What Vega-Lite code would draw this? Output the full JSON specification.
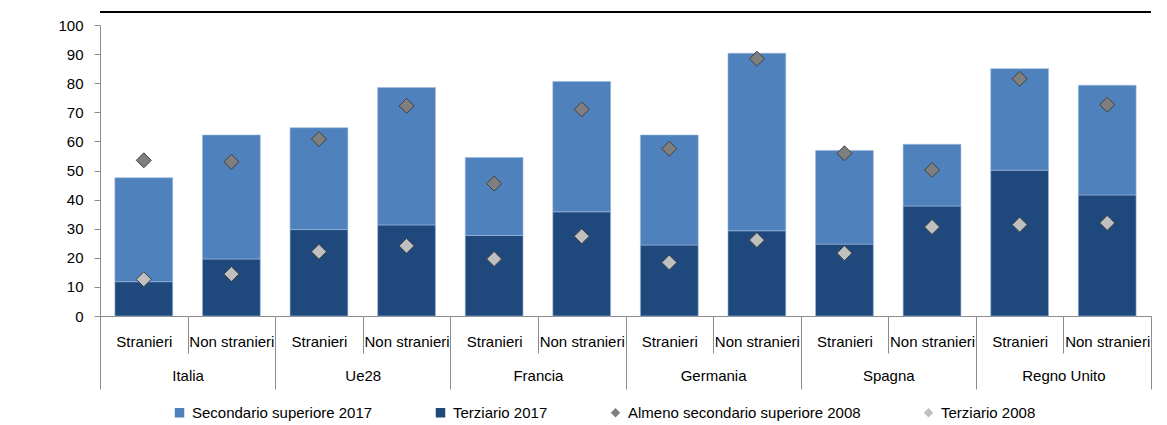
{
  "$schema": "https://vega.github.io/schema/vega-lite/v6.json",
  "width": 1051,
  "height": 291,
  "autosize": {"type": "none"},
  "padding": {"left": 100, "top": 25, "right": 16, "bottom": 109},
  "background": "white",
  "config": {
    "view": {"stroke": null},
    "font": "Liberation Sans",
    "axis": {"labelFont": "Liberation Sans", "labelFontSize": 15, "labelColor": "#000000", "domainColor": "#8c8c8c", "tickColor": "#8c8c8c", "grid": false, "title": null},
    "legend": {"labelFont": "Liberation Sans", "labelFontSize": 15, "labelColor": "#000000", "labelLimit": 0}
  },
  "data": {
    "values": [
      {"country": "Italia", "group": "Stranieri", "key": "Italia|Stranieri", "series": "Terziario 2017", "value": 11.8},
      {"country": "Italia", "group": "Stranieri", "key": "Italia|Stranieri", "series": "Secondario superiore 2017", "value": 35.7},
      {"country": "Italia", "group": "Stranieri", "key": "Italia|Stranieri", "series": "Almeno secondario superiore 2008", "value": 53.5},
      {"country": "Italia", "group": "Stranieri", "key": "Italia|Stranieri", "series": "Terziario 2008", "value": 12.6},
      {"country": "Italia", "group": "Non stranieri", "key": "Italia|Non stranieri", "series": "Terziario 2017", "value": 19.6},
      {"country": "Italia", "group": "Non stranieri", "key": "Italia|Non stranieri", "series": "Secondario superiore 2017", "value": 42.6},
      {"country": "Italia", "group": "Non stranieri", "key": "Italia|Non stranieri", "series": "Almeno secondario superiore 2008", "value": 53.0},
      {"country": "Italia", "group": "Non stranieri", "key": "Italia|Non stranieri", "series": "Terziario 2008", "value": 14.4},
      {"country": "Ue28", "group": "Stranieri", "key": "Ue28|Stranieri", "series": "Terziario 2017", "value": 29.7},
      {"country": "Ue28", "group": "Stranieri", "key": "Ue28|Stranieri", "series": "Secondario superiore 2017", "value": 35.0},
      {"country": "Ue28", "group": "Stranieri", "key": "Ue28|Stranieri", "series": "Almeno secondario superiore 2008", "value": 60.8},
      {"country": "Ue28", "group": "Stranieri", "key": "Ue28|Stranieri", "series": "Terziario 2008", "value": 22.1},
      {"country": "Ue28", "group": "Non stranieri", "key": "Ue28|Non stranieri", "series": "Terziario 2017", "value": 31.3},
      {"country": "Ue28", "group": "Non stranieri", "key": "Ue28|Non stranieri", "series": "Secondario superiore 2017", "value": 47.2},
      {"country": "Ue28", "group": "Non stranieri", "key": "Ue28|Non stranieri", "series": "Almeno secondario superiore 2008", "value": 72.2},
      {"country": "Ue28", "group": "Non stranieri", "key": "Ue28|Non stranieri", "series": "Terziario 2008", "value": 24.1},
      {"country": "Francia", "group": "Stranieri", "key": "Francia|Stranieri", "series": "Terziario 2017", "value": 27.7},
      {"country": "Francia", "group": "Stranieri", "key": "Francia|Stranieri", "series": "Secondario superiore 2017", "value": 26.8},
      {"country": "Francia", "group": "Stranieri", "key": "Francia|Stranieri", "series": "Almeno secondario superiore 2008", "value": 45.5},
      {"country": "Francia", "group": "Stranieri", "key": "Francia|Stranieri", "series": "Terziario 2008", "value": 19.6},
      {"country": "Francia", "group": "Non stranieri", "key": "Francia|Non stranieri", "series": "Terziario 2017", "value": 35.8},
      {"country": "Francia", "group": "Non stranieri", "key": "Francia|Non stranieri", "series": "Secondario superiore 2017", "value": 44.8},
      {"country": "Francia", "group": "Non stranieri", "key": "Francia|Non stranieri", "series": "Almeno secondario superiore 2008", "value": 71.0},
      {"country": "Francia", "group": "Non stranieri", "key": "Francia|Non stranieri", "series": "Terziario 2008", "value": 27.4},
      {"country": "Germania", "group": "Stranieri", "key": "Germania|Stranieri", "series": "Terziario 2017", "value": 24.4},
      {"country": "Germania", "group": "Stranieri", "key": "Germania|Stranieri", "series": "Secondario superiore 2017", "value": 37.8},
      {"country": "Germania", "group": "Stranieri", "key": "Germania|Stranieri", "series": "Almeno secondario superiore 2008", "value": 57.5},
      {"country": "Germania", "group": "Stranieri", "key": "Germania|Stranieri", "series": "Terziario 2008", "value": 18.4},
      {"country": "Germania", "group": "Non stranieri", "key": "Germania|Non stranieri", "series": "Terziario 2017", "value": 29.3},
      {"country": "Germania", "group": "Non stranieri", "key": "Germania|Non stranieri", "series": "Secondario superiore 2017", "value": 61.0},
      {"country": "Germania", "group": "Non stranieri", "key": "Germania|Non stranieri", "series": "Almeno secondario superiore 2008", "value": 88.4},
      {"country": "Germania", "group": "Non stranieri", "key": "Germania|Non stranieri", "series": "Terziario 2008", "value": 26.1},
      {"country": "Spagna", "group": "Stranieri", "key": "Spagna|Stranieri", "series": "Terziario 2017", "value": 24.7},
      {"country": "Spagna", "group": "Stranieri", "key": "Spagna|Stranieri", "series": "Secondario superiore 2017", "value": 32.2},
      {"country": "Spagna", "group": "Stranieri", "key": "Spagna|Stranieri", "series": "Almeno secondario superiore 2008", "value": 55.9},
      {"country": "Spagna", "group": "Stranieri", "key": "Spagna|Stranieri", "series": "Terziario 2008", "value": 21.6},
      {"country": "Spagna", "group": "Non stranieri", "key": "Spagna|Non stranieri", "series": "Terziario 2017", "value": 37.8},
      {"country": "Spagna", "group": "Non stranieri", "key": "Spagna|Non stranieri", "series": "Secondario superiore 2017", "value": 21.2},
      {"country": "Spagna", "group": "Non stranieri", "key": "Spagna|Non stranieri", "series": "Almeno secondario superiore 2008", "value": 50.2},
      {"country": "Spagna", "group": "Non stranieri", "key": "Spagna|Non stranieri", "series": "Terziario 2008", "value": 30.6},
      {"country": "Regno Unito", "group": "Stranieri", "key": "Regno Unito|Stranieri", "series": "Terziario 2017", "value": 50.1},
      {"country": "Regno Unito", "group": "Stranieri", "key": "Regno Unito|Stranieri", "series": "Secondario superiore 2017", "value": 34.9},
      {"country": "Regno Unito", "group": "Stranieri", "key": "Regno Unito|Stranieri", "series": "Almeno secondario superiore 2008", "value": 81.5},
      {"country": "Regno Unito", "group": "Stranieri", "key": "Regno Unito|Stranieri", "series": "Terziario 2008", "value": 31.4},
      {"country": "Regno Unito", "group": "Non stranieri", "key": "Regno Unito|Non stranieri", "series": "Terziario 2017", "value": 41.6},
      {"country": "Regno Unito", "group": "Non stranieri", "key": "Regno Unito|Non stranieri", "series": "Secondario superiore 2017", "value": 37.7},
      {"country": "Regno Unito", "group": "Non stranieri", "key": "Regno Unito|Non stranieri", "series": "Almeno secondario superiore 2008", "value": 72.6},
      {"country": "Regno Unito", "group": "Non stranieri", "key": "Regno Unito|Non stranieri", "series": "Terziario 2008", "value": 32.0}
    ]
  },
  "layer": [
    {
      "transform": [{"filter": "indexof(['Secondario superiore 2017','Terziario 2017'], datum.series) >= 0"}],
      "mark": {"type": "bar", "stroke": "#9db8dc", "strokeWidth": 0.6},
      "encoding": {
        "x": {
          "field": "key", "type": "nominal",
          "sort": ["Italia|Stranieri", "Italia|Non stranieri", "Ue28|Stranieri", "Ue28|Non stranieri", "Francia|Stranieri", "Francia|Non stranieri", "Germania|Stranieri", "Germania|Non stranieri", "Spagna|Stranieri", "Spagna|Non stranieri", "Regno Unito|Stranieri", "Regno Unito|Non stranieri"],
          "scale": {"type": "band", "paddingInner": 0.34, "paddingOuter": 0.17},
          "axis": null
        },
        "y": {
          "field": "value", "type": "quantitative", "stack": "zero",
          "scale": {"domain": [0, 100], "nice": false},
          "axis": {"values": [0, 10, 20, 30, 40, 50, 60, 70, 80, 90, 100], "tickCount": 20, "labelOverlap": false, "labelSeparation": 0, "tickSize": 6, "labelPadding": 11}
        },
        "color": {
          "field": "series", "type": "nominal",
          "scale": {"domain": ["Secondario superiore 2017", "Terziario 2017", "Almeno secondario superiore 2008", "Terziario 2008"], "range": ["#4f81bd", "#1f497d", "#7f7f7f", "#c0c0c0"]},
          "legend": {"title": null, "orient": "none", "legendX": 72, "legendY": 380, "direction": "horizontal", "columns": 4, "columnPadding": 60, "symbolSize": 90, "symbolStrokeWidth": 0, "labelOffset": 5, "padding": 0, "labelLimit": 0}
        },
        "order": {"field": "series", "sort": "descending"}
      }
    },
    {
      "transform": [{"filter": "indexof(['Almeno secondario superiore 2008','Terziario 2008'], datum.series) >= 0"}],
      "mark": {"type": "point", "filled": true, "size": 225, "stroke": "#404040", "strokeWidth": 1, "opacity": 1},
      "encoding": {
        "x": {
          "field": "key", "type": "nominal",
          "sort": ["Italia|Stranieri", "Italia|Non stranieri", "Ue28|Stranieri", "Ue28|Non stranieri", "Francia|Stranieri", "Francia|Non stranieri", "Germania|Stranieri", "Germania|Non stranieri", "Spagna|Stranieri", "Spagna|Non stranieri", "Regno Unito|Stranieri", "Regno Unito|Non stranieri"],
          "scale": {"type": "band", "paddingInner": 0.34, "paddingOuter": 0.17},
          "axis": null
        },
        "y": {"field": "value", "type": "quantitative", "axis": {"values": [0, 10, 20, 30, 40, 50, 60, 70, 80, 90, 100], "tickCount": 20, "labelOverlap": false, "labelSeparation": 0, "tickSize": 6, "labelPadding": 11}},
        "color": {"field": "series", "type": "nominal"},
        "shape": {
          "field": "series", "type": "nominal",
          "scale": {"domain": ["Secondario superiore 2017", "Terziario 2017", "Almeno secondario superiore 2008", "Terziario 2008"], "range": ["square", "square", "diamond", "diamond"]},
          "legend": {"title": null, "orient": "none", "legendX": 72, "legendY": 380, "direction": "horizontal", "columns": 4, "columnPadding": 60, "symbolSize": 90, "symbolStrokeWidth": 0, "labelOffset": 5, "padding": 0, "labelLimit": 0}
        }
      }
    },
    {
      "mark": {"type": "rule", "clip": false, "color": "#000000", "strokeWidth": 2},
      "encoding": {"y": {"datum": 104.5, "type": "quantitative", "axis": {"values": [0, 10, 20, 30, 40, 50, 60, 70, 80, 90, 100], "tickCount": 20, "labelOverlap": false, "labelSeparation": 0, "tickSize": 6, "labelPadding": 11}}}
    },
    {
      "mark": {"type": "point", "opacity": 0},
      "encoding": {
        "x": {
          "field": "key", "type": "nominal",
          "sort": ["Italia|Stranieri", "Italia|Non stranieri", "Ue28|Stranieri", "Ue28|Non stranieri", "Francia|Stranieri", "Francia|Non stranieri", "Germania|Stranieri", "Germania|Non stranieri", "Spagna|Stranieri", "Spagna|Non stranieri", "Regno Unito|Stranieri", "Regno Unito|Non stranieri"],
          "scale": {"type": "band", "paddingInner": 0, "paddingOuter": 0},
          "axis": {"orient": "bottom", "tickBand": "extent", "tickSize": 37, "labelPadding": -19, "labelAngle": 0, "labelBaseline": "top", "labelOverlap": false, "labelExpr": "split(datum.label, '|')[1]"}
        }
      }
    },
    {
      "mark": {"type": "point", "opacity": 0},
      "encoding": {
        "x": {
          "field": "country", "type": "nominal",
          "sort": ["Italia", "Ue28", "Francia", "Germania", "Spagna", "Regno Unito"],
          "scale": {"type": "band", "paddingInner": 0, "paddingOuter": 0},
          "axis": {"orient": "bottom", "tickBand": "extent", "tickSize": 73, "labelPadding": -21, "labelAngle": 0, "labelBaseline": "top", "domain": false, "labelOverlap": false}
        }
      }
    }
  ],
  "resolve": {"scale": {"x": "independent"}}
}
